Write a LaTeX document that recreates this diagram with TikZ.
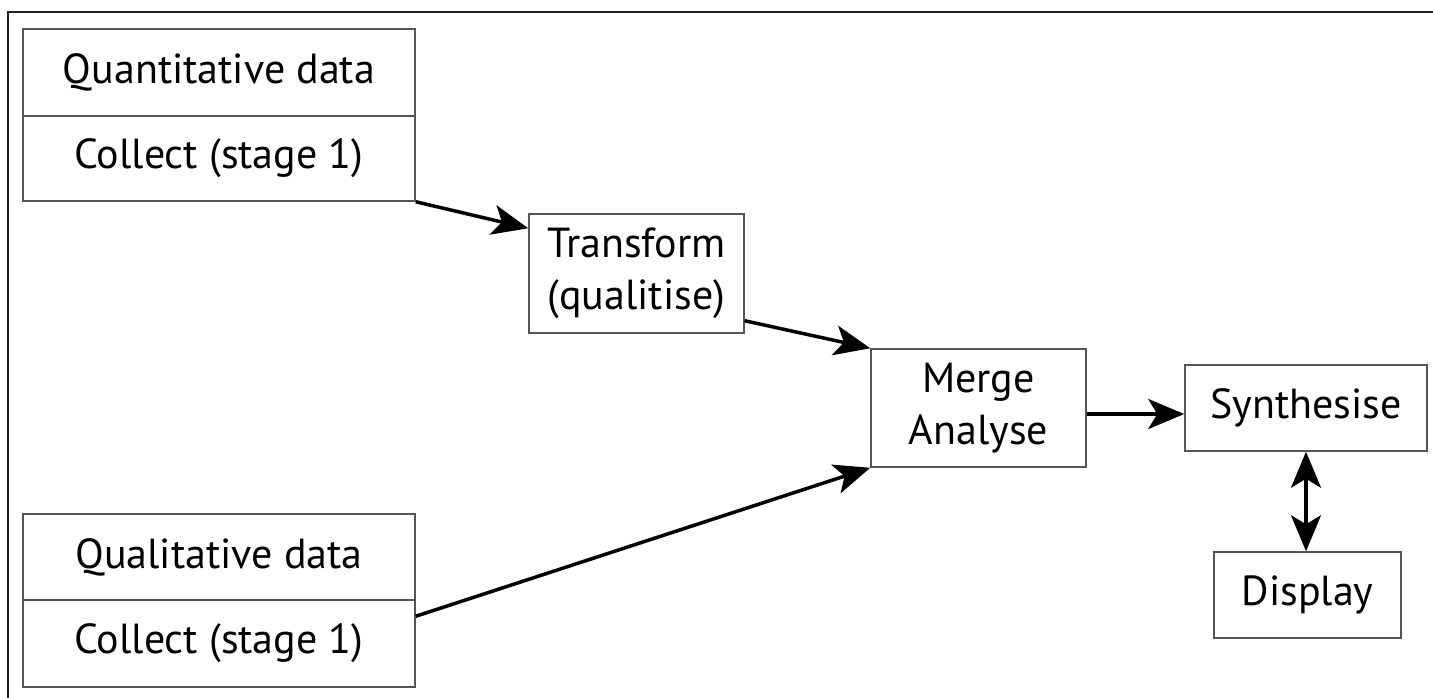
\documentclass[tikz,border=0pt]{standalone}
\usepackage{fontspec}
\setmainfont{PT Sans}
\usetikzlibrary{arrows.meta,calc}
\definecolor{boxgray}{HTML}{555555}
\definecolor{framegray}{HTML}{222222}
\tikzset{
  box/.style={draw=boxgray, line width=1.5pt, rectangle, inner sep=0pt, align=center,
    font=\fontsize{42}{52}\selectfont},
  bighead/.tip={Stealth[length=36pt,width=30pt,inset=9pt]},
  flow/.style={line width=3.5pt, -bighead},
  flow2/.style={line width=3.5pt, bighead-bighead},
}
\begin{document}
\begin{tikzpicture}[x=1pt,y=-1pt]
\useasboundingbox (0,0) rectangle (1433,698);
\coordinate (ftl) at (8,12);
\coordinate (ftr) at (1433,12);
\coordinate (fbl) at (8,698);
\draw[framegray, line width=2pt] (fbl) -- (ftl) -- (ftr);

\node[box, minimum width=392pt, minimum height=87pt] (q1) at (219,72.5) {Quantitative data};
\node[box, minimum width=392pt, minimum height=85pt] (q2) at (219,158.5) {Collect (stage 1)};
\node[box, minimum width=392pt, minimum height=86pt] (l1) at (219,557) {Qualitative data};
\node[box, minimum width=392pt, minimum height=87pt] (l2) at (219,643.5) {Collect (stage 1)};
\node[box, minimum width=215pt, minimum height=119pt] (tr) at (636.5,273.5) {Transform\\(qualitise)};
\node[box, minimum width=215pt, minimum height=118pt] (mg) at (978.5,408) {Merge\\Analyse};
\node[box, minimum width=242pt, minimum height=86pt] (sy) at (1306,408) {Synthesise};
\node[box, minimum width=187pt, minimum height=86pt] (di) at (1307.5,595) {Display};

\draw[flow] (q2.south east) -- ($(tr.north west)+(0,15)$);
\draw[flow] ($(tr.south east)+(0,-13)$) -- (mg.north west);
\draw[flow] ($(l2.north east)+(0,17)$) -- (mg.south west);
\draw[flow] ($(mg.east)+(0,6)$) -- ($(sy.west)+(0,6)$);
\draw[flow2] (sy.south) -- (sy.south |- di.north);
\end{tikzpicture}
\end{document}
